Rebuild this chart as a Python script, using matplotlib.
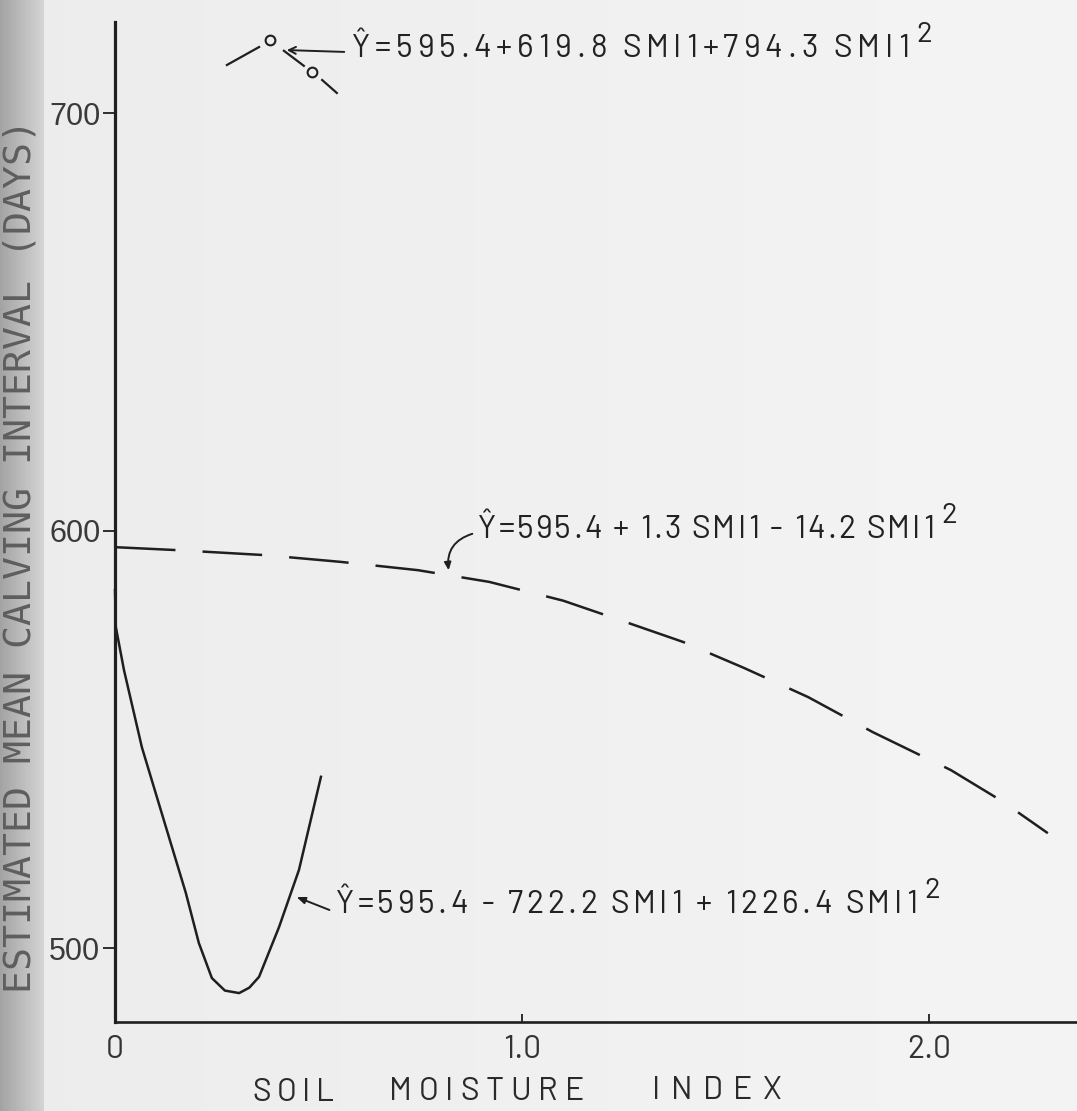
import numpy as np
import matplotlib
matplotlib.use("Agg")
import matplotlib.pyplot as plt
from matplotlib import font_manager as fm
from matplotlib.font_manager import FontProperties

# ---------------- data ----------------
# solid curve:  Y = 595.4 - 722.2 SMI1 + 1226.4 SMI1^2
smi_solid = [0.000, 0.002, 0.022, 0.066, 0.125, 0.174, 0.206, 0.238, 0.270,
             0.305, 0.330, 0.354, 0.403, 0.452, 0.506]
days_solid = [585.7, 576.9, 566.6, 548.1, 529.0, 513.2, 501.2, 492.8, 489.8,
              489.2, 490.5, 493.1, 505.0, 518.7, 541.0]

# dashed curve: Y = 595.4 + 1.3 SMI1 - 14.2 SMI1^2
smi_dash = [0.002, 0.152, 0.369, 0.553, 0.744, 0.919, 1.101, 1.248, 1.396,
            1.545, 1.703, 1.862, 2.054, 2.179, 2.292]
days_dash = [596.0, 595.3, 594.1, 592.5, 590.5, 587.7, 583.2, 578.3, 573.3,
             567.1, 560.1, 551.7, 542.6, 535.2, 527.5]

# top curve (off-scale) fragments: Y = 595.4 + 619.8 SMI1 + 794.3 SMI1^2
smi_top_a = [0.275, 0.354]
days_top_a = [711.5, 715.8]
smi_top_b = [0.415, 0.464]
days_top_b = [714.9, 711.3]
smi_top_c = [0.509, 0.545]
days_top_c = [707.9, 704.8]
smi_top_pts = [0.381, 0.484]
days_top_pts = [717.5, 709.8]

y_ticks = [500, 600, 700]
y_tick_labels = ["500", "600", "700"]
x_ticks = [0, 1, 2]
x_tick_labels = ["0", "1.0", "2.0"]

eq_main = ["Ŷ=595.4+619.8 SMI1+794.3 SMI1",
           "Ŷ=595.4 + 1.3 SMI1 - 14.2 SMI1",
           "Ŷ=595.4 - 722.2 SMI1 + 1226.4 SMI1"]
eq_sup = "2"
y_label = "ESTIMATED MEAN CALVING INTERVAL (DAYS)"
x_label_words = ["SOIL", "MOISTURE", "INDEX"]

# ---------------- fonts ----------------
_avail = {f.name for f in fm.fontManager.ttflist}


def pick(*cands):
    for c in cands:
        if c in _avail:
            return c
    return "DejaVu Sans"


DIN = pick("Barlow", "Roboto", "Liberation Sans")
HELV = pick("Liberation Sans", "Arimo", "DejaVu Sans")
MONO = pick("DejaVu Sans Mono", "Liberation Mono")

# ---------------- layout ----------------
W, H, DPI = 1077, 1111, 100
INK = "#1f1f1f"

fig = plt.figure(figsize=(W / DPI, H / DPI), dpi=DPI)
fig.patch.set_facecolor("#efefed")

# scanned paper background with dark left margin
bg = fig.add_axes([0, 0, 1, 1], zorder=-10)
grad = np.full(W, 0.94)
edge = 44
grad[:edge] = np.linspace(0.64, 0.83, edge)
grad[edge:] = np.linspace(0.925, 0.955, W - edge)
bg.imshow(np.tile(grad, (4, 1)), cmap="gray", vmin=0, vmax=1, aspect="auto",
          extent=[0, 1, 0, 1], interpolation="nearest")
bg.set_axis_off()

ax_left, ax_bottom, ax_top = 115, 1022, 22          # image pixels
px_per_unit_x = 407.0
px_per_day = 4.175
ax = fig.add_axes([ax_left / W, (H - ax_bottom) / H, 1 - ax_left / W,
                   (ax_bottom - ax_top) / H])
ax.patch.set_alpha(0)
ax.set_xlim(0, (W - ax_left) / px_per_unit_x)
ax.set_ylim(500 - (ax_bottom - 948) / px_per_day, 500 + (948 - ax_top) / px_per_day)

for s in ["top", "right"]:
    ax.spines[s].set_visible(False)
ax.spines["left"].set_linewidth(2.3)
ax.spines["bottom"].set_linewidth(1.9)
ax.spines["left"].set_color(INK)
ax.spines["bottom"].set_color(INK)

ax.set_yticks(y_ticks)
ax.set_yticklabels(y_tick_labels, fontfamily=HELV, fontsize=22,
                   color="#3a3a3a")
ax.tick_params(axis="y", direction="out", length=9, width=1.3, pad=1.5,
               color=INK)
ax.set_xticks(x_ticks)
ax.set_xticklabels(x_tick_labels, fontfamily=DIN, fontsize=23, color="#333333")
ax.tick_params(axis="x", direction="in", length=6, width=1.3, pad=9, color=INK)

# curves
ax.plot(smi_solid, days_solid, color=INK, lw=1.8, solid_joinstyle="round",
        clip_on=False)
ln, = ax.plot(smi_dash, days_dash, color=INK, lw=1.8, clip_on=False)
ln.set_dashes([43 / 1.8, 19.5 / 1.8])
for sx, sy in [(smi_top_a, days_top_a), (smi_top_b, days_top_b),
               (smi_top_c, days_top_c)]:
    ax.plot(sx, sy, color=INK, lw=1.6, clip_on=False)
ax.plot(smi_top_pts, days_top_pts, ls="none", marker="o", ms=7, mfc="none",
        mec=INK, mew=1.5, clip_on=False)


def fp(x, y):
    """image pixel -> figure pixel"""
    return (x, H - y)


fig.canvas.draw()
renderer = fig.canvas.get_renderer()


def tw(s, prop):
    return renderer.get_text_width_height_descent(s, prop, ismath=False)[0]


def tracked(text, left, right, base, size, color):
    """draw text letter by letter with tracking so it spans left..right"""
    prop = FontProperties(family=DIN, size=size)
    ref = tw("H", prop)
    natural = tw(text, prop)
    extra = (right - left - natural) / max(len(text) - 1, 1)
    for i, ch in enumerate(text):
        if ch == " ":
            continue
        x = left + (tw(text[:i] + "H", prop) - ref if i else 0) + i * extra
        fig.text(x / W, 1 - base / H, ch, fontproperties=prop, color=color,
                 ha="left", va="baseline")


# equations: left, baseline and right edge (image px) of the main part
eq_pos = [(352, 57, 909), (478, 538, 934), (336, 913, 917)]
for txt, (x, y, xr) in zip(eq_main, eq_pos):
    tracked(txt, x, xr, y, 23, "#222222")
    fig.text((xr + 7) / W, 1 - (y - 15) / H, eq_sup, fontfamily=DIN,
             fontsize=21, color="#222222", ha="left", va="baseline")

# arrows
arrow_kw = dict(color=INK, lw=1.4)
ax.annotate("", xy=fp(284, 50), xytext=fp(347, 52), xycoords="figure pixels",
            textcoords="figure pixels",
            arrowprops=dict(arrowstyle="->,head_length=0.5,head_width=0.25",
                            **arrow_kw))
ax.annotate("", xy=fp(449, 573), xytext=fp(475, 533), xycoords="figure pixels",
            textcoords="figure pixels",
            arrowprops=dict(arrowstyle="-|>,head_length=0.45,head_width=0.2",
                            connectionstyle="arc3,rad=0.45", **arrow_kw))
ax.annotate("", xy=fp(294, 896), xytext=fp(332, 911), xycoords="figure pixels",
            textcoords="figure pixels",
            arrowprops=dict(arrowstyle="-|>,head_length=0.5,head_width=0.2",
                            **arrow_kw))

# y label (monoline lettering)
fig.text(21 / W, 1 - 556 / H, y_label, rotation=90, fontfamily=MONO,
         fontsize=27.5, color="#5e5e5e", ha="center", va="center")

# x label words, letter-spaced
tracked(x_label_words[0], 252, 334, 1101, 23, "#2a2a2a")
tracked(x_label_words[1], 389, 584, 1100, 23, "#2a2a2a")
tracked(x_label_words[2], 652, 782, 1099, 23, "#2a2a2a")

fig.savefig("out.png", dpi=DPI, facecolor=fig.get_facecolor())
